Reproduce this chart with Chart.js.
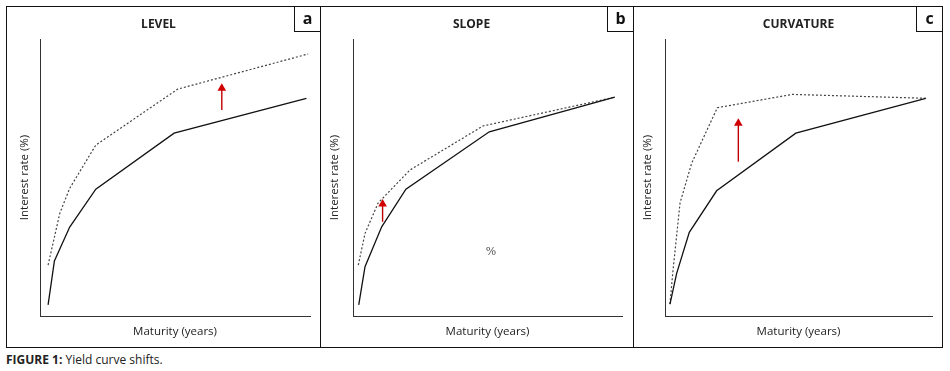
<!DOCTYPE html>
<html>
<head>
<meta charset="utf-8">
<script src="https://cdn.jsdelivr.net/npm/chart.js@4.4.1/dist/chart.umd.min.js"></script>
<style>
  body { margin: 0; background: #fff; width: 950px; height: 371px; position: relative; font-family: 'Open Sans', sans-serif; color: #222; }
  .frame { position: absolute; left: 6px; top: 6px; width: 935px; height: 340px; border: 1px solid #111; }
  .divider { position: absolute; top: 6px; width: 1px; height: 341px; background: #111; }
  .tag { position: absolute; top: 6px; width: 25px; height: 25px; border-left: 1px solid #111; border-bottom: 1px solid #111; font: bold 16px 'Open Sans', sans-serif; text-align: center; line-height: 24px; color: #111; }
  canvas { position: absolute; top: 7px; }
  .caption { position: absolute; left: 6px; top: 351px; font-size: 12px; color: #222; }
</style>
</head>
<body>
<div class="frame"></div>
<div class="divider" style="left:320px"></div>
<div class="divider" style="left:633px"></div>
<canvas id="chartA" style="left:7px" width="313" height="340"></canvas>
<canvas id="chartB" style="left:321px" width="312" height="340"></canvas>
<canvas id="chartC" style="left:634px" width="308" height="340"></canvas>
<div class="tag" style="left:294px">a</div>
<div class="tag" style="left:607px">b</div>
<div class="tag" style="left:916px">c</div>
<div class="caption"><b>FIGURE 1:</b> Yield curve shifts.</div>
<script>
// panel a - level
const levelSolidX = [0.9, 1.6, 3.3, 6.2, 14.9, 29.6]
const levelSolidY = [0.40, 1.99, 3.21, 4.58, 6.60, 7.86]
const levelDashX = [0.9, 2.2, 3.3, 6.2, 15.3, 29.8]
const levelDashY = [1.84, 3.71, 4.61, 6.17, 8.19, 9.46]
const levelArrowX = [20.2, 20.2]
const levelArrowY = [7.44, 8.22]

// panel b - slope
const slopeSolidX = [0.64, 1.34, 3.2, 5.9, 15.2, 29.2]
const slopeSolidY = [0.40, 1.78, 3.22, 4.58, 6.65, 7.90]
const slopeDashX = [0.59, 1.34, 2.8, 6.35, 14.5, 29.2]
const slopeDashY = [1.84, 2.98, 4.08, 5.27, 6.86, 7.90]
const slopeArrowX = [3.3, 3.3]
const slopeArrowY = [3.40, 4.04]

// panel c - curvature
const curveSolidX = [0.56, 1.31, 2.73, 5.8, 14.7, 29.3]
const curveSolidY = [0.43, 1.54, 3.02, 4.52, 6.60, 7.86]
const curveDashX = [0.56, 0.87, 1.69, 3.0, 5.88, 14.3, 29.3]
const curveDashY = [0.43, 1.55, 4.08, 5.52, 7.52, 8.0, 7.86]
const curveArrowX = [8.24, 8.24]
const curveArrowY = [5.57, 6.96]

const titles = ['LEVEL', 'SLOPE', 'CURVATURE']
const xTitle = 'Maturity (years)'
const yTitle = 'Interest rate (%)'

const toPoints = (xs, ys) => xs.map((x, i) => ({ x: x, y: ys[i] }))

// stray "%" mark sitting in panel b
const percentMark = {
  id: 'percentMark',
  afterDatasetsDraw (chart) {
    if (chart.canvas.id !== 'chartB') return
    const ctx = chart.ctx
    ctx.save()
    ctx.font = '11px "DejaVu Serif", serif'
    ctx.fillStyle = '#555'
    ctx.textAlign = 'center'
    ctx.textBaseline = 'middle'
    ctx.fillText('%', chart.scales.x.getPixelForValue(15.4), chart.scales.y.getPixelForValue(2.31))
    ctx.restore()
  }
}

function makeChart (id, title, solid, dash, arrow, yTitlePad, padRight, yWidth, fullTitle) {
  return new Chart(document.getElementById(id), {
    type: 'line',
    data: {
      datasets: [
        {
          data: solid,
          borderColor: '#111',
          borderWidth: 1.3,
          pointRadius: 0
        },
        {
          data: dash,
          borderColor: '#444',
          borderWidth: 1.2,
          borderDash: [2, 2],
          pointRadius: 0
        },
        {
          data: arrow,
          borderColor: '#c00000',
          backgroundColor: '#d00000',
          borderWidth: 1.4,
          pointStyle: 'triangle',
          pointRadius: [0, 5],
          pointBorderWidth: 0
        }
      ]
    },
    options: {
      responsive: false,
      animation: false,
      layout: { padding: { left: 0, top: 0, right: padRight, bottom: 0 } },
      plugins: {
        legend: { display: false },
        tooltip: { enabled: false },
        title: {
          display: true,
          text: title,
          fullSize: fullTitle,
          color: '#222',
          font: { family: "'Open Sans', sans-serif", size: 12, weight: 'bold', lineHeight: 1.2 },
          padding: { top: 10.8, bottom: 6.8 }
        }
      },
      scales: {
        x: {
          type: 'linear',
          min: 0,
          max: 30,
          grid: { display: false },
          ticks: { display: false },
          border: { color: '#333', width: 1 },
          title: {
            display: true,
            text: xTitle,
            color: '#222',
            font: { family: "'Open Sans', sans-serif", size: 11.5, lineHeight: 1.2 },
            padding: { top: 0, bottom: 8.1 }
          },
          afterFit: scale => { scale.height = 31 }
        },
        y: {
          min: 0,
          max: 10,
          grid: { display: false },
          ticks: { display: false },
          border: { color: '#333', width: 1 },
          title: {
            display: true,
            text: yTitle,
            color: '#222',
            font: { family: "'Open Sans', sans-serif", size: 11.5, lineHeight: 1.2 },
            padding: { top: yTitlePad, bottom: 0 }
          },
          afterFit: scale => { scale.width = yWidth }
        }
      }
    },
    plugins: [percentMark]
  })
}

makeChart('chartA', titles[0], toPoints(levelSolidX, levelSolidY), toPoints(levelDashX, levelDashY),
  toPoints(levelArrowX, levelArrowY), 11.1, 10, 33, true)
makeChart('chartB', titles[1], toPoints(slopeSolidX, slopeSolidY), toPoints(slopeDashX, slopeDashY),
  toPoints(slopeArrowX, slopeArrowY), 7.1, 11, 32, true)
makeChart('chartC', titles[2], toPoints(curveSolidX, curveSolidY), toPoints(curveDashX, curveDashY),
  toPoints(curveArrowX, curveArrowY), 7.1, 10, 31, false)
</script>
</body>
</html>
